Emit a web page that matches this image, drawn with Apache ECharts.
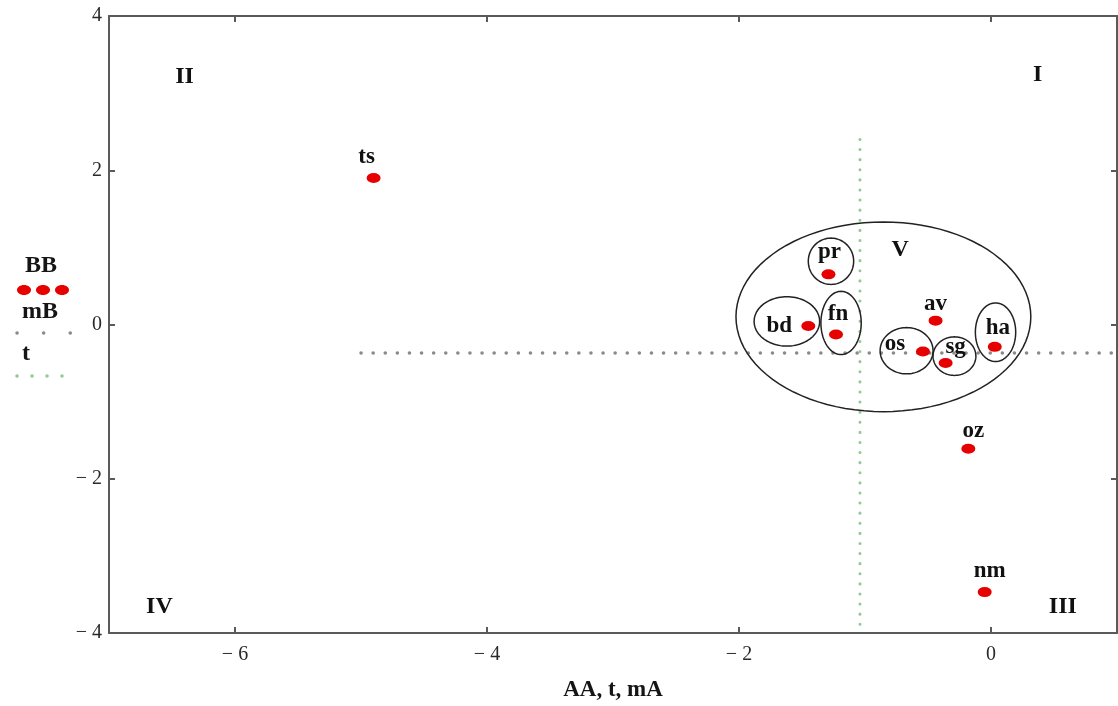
<!DOCTYPE html>
<html>
<head>
<meta charset="utf-8">
<title>AA, t, mA</title>
<script src="https://cdn.jsdelivr.net/npm/echarts@6/dist/echarts.min.js"></script>
<style>
  html, body { margin: 0; padding: 0; background: #fff; }
  #chart { width: 1118px; height: 706px; }
</style>
</head>
<body>
<div id="chart"></div>
<script>
// Sample points (BB)
const pointNames = ['ts', 'pr', 'bd', 'fn', 'av', 'os', 'sg', 'ha', 'oz', 'nm'];
const pointX = [-4.9, -1.29, -1.45, -1.23, -0.44, -0.54, -0.36, 0.03, -0.18, -0.05];
const pointY = [1.9, 0.65, -0.02, -0.13, 0.05, -0.35, -0.5, -0.29, -1.61, -3.47];

// Mean lines: mB (horizontal) and t (vertical)
const meanBY = -0.37;
const meanBX = [-5, 1];
const meanTX = -1.04;
const meanTY = [2.4, -4];

// Cluster outlines: [centre x, centre y, radius x, radius y] in axis units
const clusterNames = ['V', 'pr', 'bd', 'fn', 'os', 'sg', 'ha'];
const clusterShapes = [
  [-0.854, 0.10, 1.17, 1.23],
  [-1.27, 0.82, 0.18, 0.30],
  [-1.62, 0.04, 0.26, 0.32],
  [-1.19, 0.02, 0.16, 0.41],
  [-0.67, -0.34, 0.21, 0.30],
  [-0.29, -0.41, 0.17, 0.25],
  [0.036, -0.10, 0.16, 0.38]
];

// Region labels
const regionNames = ['I', 'II', 'III', 'IV', 'V'];
const regionX = [0.37, -6.4, 0.57, -6.6, -0.72];
const regionY = [3.24, 3.21, -3.66, -3.66, 0.97];

// Axis ticks
const xTicks = [-6, -4, -2, 0];
const yTicks = [-4, -2, 0, 2, 4];

// Pixel offsets of the point labels relative to their markers
const labelOffsets = {
  ts: [-7, -21], pr: [1, -22], bd: [-29, 0], fn: [2, -20], av: [0, -17],
  os: [-28, -7], sg: [10, -16], ha: [3, -19], oz: [5, -18], nm: [5, -21]
};

const serif = '"Liberation Serif", "DejaVu Serif", serif';
const frameColor = '#5a5a5a';
const fmtNum = v => (v < 0 ? '\u2212 ' + (-v) : String(v));

const chart = echarts.init(document.getElementById('chart'), null, { renderer: 'canvas' });

const points = pointNames.map((n, i) => ({
  name: n,
  value: [pointX[i], pointY[i]],
  label: { offset: labelOffsets[n] }
}));

const axisCommon = {
  axisLine: { show: true, onZero: false, lineStyle: { color: frameColor, width: 2 } },
  splitLine: { show: false }
};

const option = {
  backgroundColor: '#ffffff',
  animation: false,
  grid: { left: 109, right: 1, top: 16, bottom: 73, containLabel: false, outerBoundsMode: 'none' },
  xAxis: [
    Object.assign({
      type: 'value', min: -7, max: 1, position: 'bottom',
      name: 'AA, t, mA', nameLocation: 'middle', nameGap: 46,
      nameTextStyle: { fontFamily: serif, fontWeight: 'bold', fontSize: 23, color: '#151515' },
      axisTick: { show: true, inside: true, length: 6, customValues: xTicks, lineStyle: { color: frameColor, width: 2 } },
      axisLabel: { show: true, customValues: xTicks, formatter: fmtNum, margin: 12,
        fontFamily: serif, fontSize: 20, color: '#2a2a2a' }
    }, axisCommon),
    Object.assign({
      type: 'value', min: -7, max: 1, position: 'top',
      axisTick: { show: true, inside: true, length: 6, customValues: xTicks, lineStyle: { color: frameColor, width: 2 } },
      axisLabel: { show: false }
    }, axisCommon)
  ],
  yAxis: [
    Object.assign({
      type: 'value', min: -4, max: 4, interval: 2, position: 'left',
      axisTick: { show: true, inside: true, length: 6, lineStyle: { color: frameColor, width: 2 } },
      axisLabel: { show: true, formatter: fmtNum, margin: 7, padding: [10, 0, 0, 0],
        fontFamily: serif, fontSize: 20, color: '#2a2a2a' }
    }, axisCommon),
    Object.assign({
      type: 'value', min: -4, max: 4, interval: 2, position: 'right',
      axisTick: { show: true, inside: true, length: 6, lineStyle: { color: frameColor, width: 2 } },
      axisLabel: { show: false }
    }, axisCommon)
  ],
  series: [
    {
      name: 'mB', type: 'line', xAxisIndex: 0, yAxisIndex: 0,
      data: [[meanBX[0], meanBY], [meanBX[1], meanBY]],
      symbol: 'none', silent: true, z: 1,
      lineStyle: { color: '#8a8a8a', width: 3.5, type: [0.1, 12], cap: 'round' }
    },
    {
      name: 't', type: 'line', xAxisIndex: 0, yAxisIndex: 0,
      data: [[meanTX, meanTY[0]], [meanTX, meanTY[1]]],
      symbol: 'none', silent: true, z: 1,
      lineStyle: { color: '#94c994', width: 3, type: [0.1, 10], cap: 'round' }
    },
    {
      name: 'clusters', type: 'custom', xAxisIndex: 0, yAxisIndex: 0,
      silent: true, z: 2,
      data: clusterShapes.map((s, i) => ({ name: clusterNames[i], value: s })),
      renderItem: function (params, api) {
        const c = api.coord([api.value(0), api.value(1)]);
        const sz = api.size([api.value(2), api.value(3)]);
        const pts = [];
        for (let k = 0; k < 96; k++) {
          const a = (k / 96) * Math.PI * 2;
          pts.push([c[0] + sz[0] * Math.cos(a), c[1] + sz[1] * Math.sin(a)]);
        }
        return {
          type: 'polygon',
          shape: { points: pts },
          style: { fill: 'none', stroke: '#222', lineWidth: 1.5 }
        };
      }
    },
    {
      name: 'BB', type: 'scatter', xAxisIndex: 0, yAxisIndex: 0,
      data: points, z: 5,
      symbol: 'circle', symbolSize: [14, 10],
      itemStyle: { color: '#e60000', opacity: 1 },
      label: {
        show: true, position: 'inside', formatter: '{b}', opacity: 1,
        fontFamily: serif, fontWeight: 'bold', fontSize: 23, color: '#111'
      }
    },
    {
      name: 'regions', type: 'scatter', xAxisIndex: 0, yAxisIndex: 0,
      data: regionNames.map((n, i) => ({ name: n, value: [regionX[i], regionY[i]] })),
      symbolSize: 0, silent: true, z: 4,
      itemStyle: { opacity: 1 },
      label: {
        show: true, position: 'inside', formatter: '{b}', opacity: 1,
        fontFamily: serif, fontWeight: 'bold', fontSize: 24, color: '#111'
      }
    }
  ],
  graphic: [
    { type: 'text', left: 25, top: 254, style: { text: 'BB', font: 'bold 24px ' + serif, fill: '#151515' } },
    { type: 'ellipse', shape: { cx: 24, cy: 290, rx: 7, ry: 5 }, style: { fill: '#e60000' } },
    { type: 'ellipse', shape: { cx: 43, cy: 290, rx: 7, ry: 5 }, style: { fill: '#e60000' } },
    { type: 'ellipse', shape: { cx: 62, cy: 290, rx: 7, ry: 5 }, style: { fill: '#e60000' } },
    { type: 'text', left: 22, top: 300, style: { text: 'mB', font: 'bold 24px ' + serif, fill: '#151515' } },
    { type: 'line', shape: { x1: 17, y1: 333, x2: 71, y2: 333 },
      style: { stroke: '#8a8a8a', lineWidth: 3.5, lineDash: [0.1, 26.5], lineCap: 'round' } },
    { type: 'text', left: 22, top: 342, style: { text: 't', font: 'bold 24px ' + serif, fill: '#151515' } },
    { type: 'line', shape: { x1: 17, y1: 376, x2: 62, y2: 376 },
      style: { stroke: '#94c994', lineWidth: 3.5, lineDash: [0.1, 14.9], lineCap: 'round' } }
  ]
};

chart.setOption(option);
</script>
</body>
</html>
